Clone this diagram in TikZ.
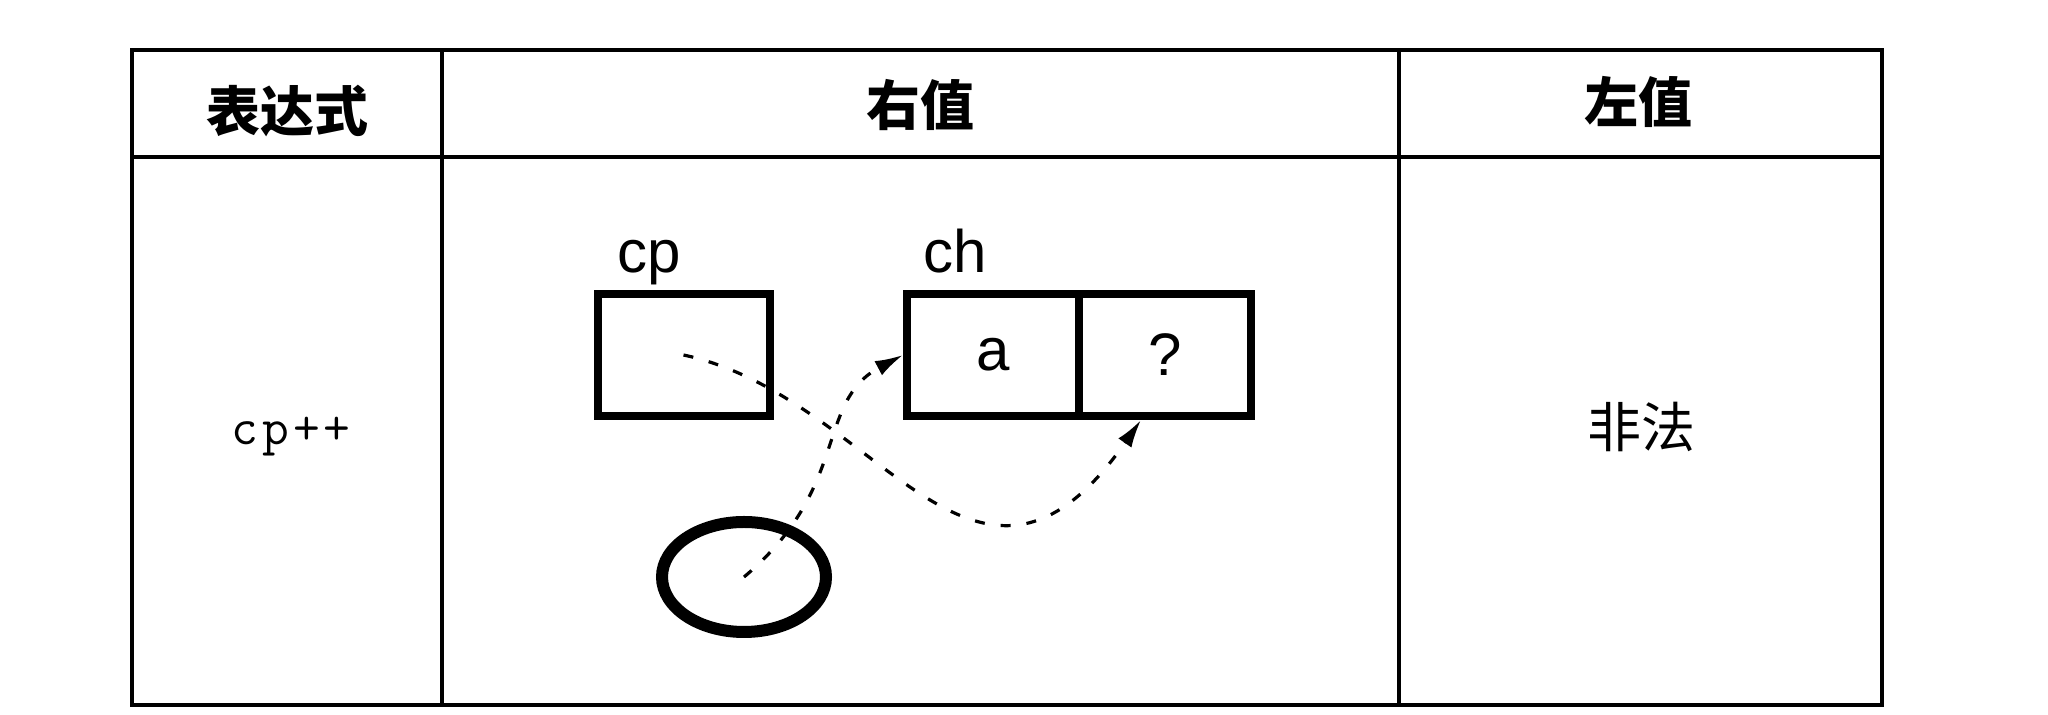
\documentclass[tikz,border=0pt]{standalone}
\usepackage{fontspec}
\setmainfont{Liberation Sans}
\newfontfamily\cjk{Noto Sans CJK SC}[BoldFont={Noto Sans CJK SC Black}]
\newfontfamily\codefont{Latin Modern Mono}[LetterSpace=8]
\usetikzlibrary{shapes.geometric,arrows.meta}

\begin{document}
\begin{tikzpicture}[x=0.5pt,y=0.5pt,
    cell/.style={draw,line width=4pt,minimum width=86pt,minimum height=61pt,inner sep=0pt,font=\fontsize{30pt}{32pt}\selectfont},
    lbl/.style={inner sep=0pt,anchor=base west,font=\fontsize{30pt}{32pt}\selectfont},
    head/.style={inner sep=0pt,font=\cjk\bfseries\fontsize{27pt}{30pt}\selectfont},
    ptrline/.style={line width=1.6pt,dash pattern=on 5pt off 8pt,-{Latex[length=14pt,width=8pt]}}]
    \useasboundingbox (0,0) rectangle (2048,715);

    % Table frame
    \draw[line width=2pt] (132,10) rectangle (1882,665);
    \draw[line width=2pt] (132,558) -- (1882,558);
    \draw[line width=2pt] (442,10) -- (442,665);
    \draw[line width=2pt] (1399,10) -- (1399,665);

    % Header row
    \node[head] (hexpr) at (287,604) {表达式};
    \node[head] (hrval) at (920,610) {右值};
    \node[head] (hlval) at (1638,613) {左值};

    % Expression and lvalue
    \node[font=\codefont\fontsize{26pt}{30pt}\selectfont,inner sep=0pt,anchor=base] (expr) at (291,270) {cp++};
    \node[font=\cjk\fontsize{27pt}{30pt}\selectfont,inner sep=0pt] (illegal) at (1641,288) {非法};

    % Memory cells
    \node[lbl] (cplbl) at (617,442) {cp};
    \node[lbl] (chlbl) at (923,442) {ch};
    \node[cell] (cp) at (683.5,360) {};
    \node[cell] (a) at (993,360) {a};
    \node[cell] (qm) at (1165,360) {?};

    % Temporary copy of cp
    \node[ellipse,draw,line width=6pt,minimum width=82pt,minimum height=55pt,inner sep=0pt] (tmp) at (744,138) {};

    % Pointers
    \draw[ptrline] (cp.center) to[out=-12,in=235,out looseness=1.1,in looseness=1.6] ([xshift=-12pt]qm.south);
    \draw[ptrline] (tmp.center) to[out=40,in=208,out looseness=1.3,in looseness=0.93] (a.west);
\end{tikzpicture}
\end{document}
